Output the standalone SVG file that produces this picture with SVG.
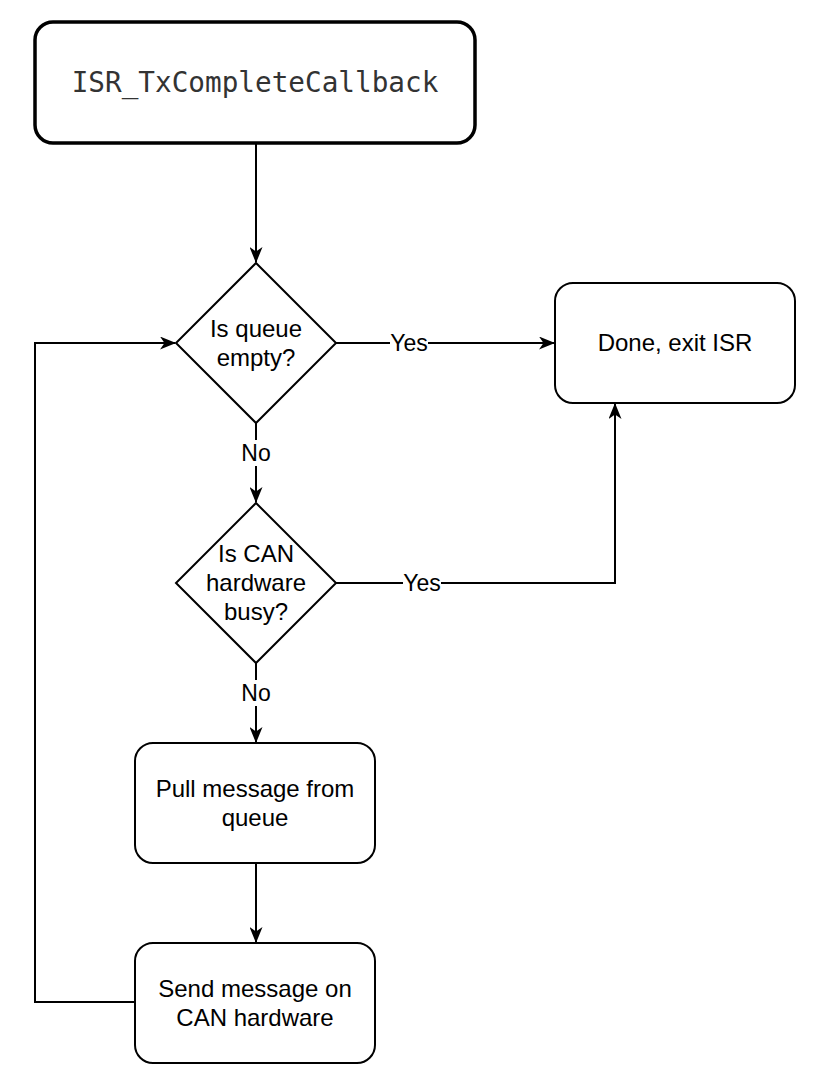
<svg xmlns="http://www.w3.org/2000/svg" width="816" height="1084" viewBox="0 0 816 1084">
<style>
.box{fill:#fff;stroke:#000;stroke-width:2}
.title{fill:#fff;stroke:#000;stroke-width:3.5}
.t{font-family:"Liberation Sans",Arial,sans-serif;font-size:24px;fill:#000;text-anchor:middle}
.mono{font-family:"DejaVu Sans Mono",monospace;font-size:27.7px;fill:#333;text-anchor:middle}
.edge{fill:none;stroke:#000;stroke-width:2}
.lbl{font-family:"Liberation Sans",Arial,sans-serif;font-size:23px;fill:#000;text-anchor:middle}
.bg{fill:#fff}
</style>
<defs>
<marker id="arr" viewBox="0 0 16 13" refX="15" refY="6.5" markerWidth="16" markerHeight="13" markerUnits="userSpaceOnUse" orient="auto">
<path d="M0,0 L16,6.5 L0,13 L4.5,6.5 Z" fill="#000"/>
</marker>
</defs>
<rect width="816" height="1084" fill="#fff"/>
<g id="connectors">
<path class="edge" d="M256,144 L256,262" marker-end="url(#arr)"/>
<path class="edge" d="M336,343 L554,343" marker-end="url(#arr)"/>
<path class="edge" d="M256,423 L256,502" marker-end="url(#arr)"/>
<path class="edge" d="M336,583 L615,583 L615,404" marker-end="url(#arr)"/>
<path class="edge" d="M256,663 L256,742" marker-end="url(#arr)"/>
<path class="edge" d="M256,863 L256,942" marker-end="url(#arr)"/>
<path class="edge" d="M135,1002 L35,1002 L35,343 L175,343" marker-end="url(#arr)"/>
<rect class="bg" x="390" y="331" width="38" height="24"/>
<text class="lbl" x="409" y="351">Yes</text>
<rect class="bg" x="403" y="571" width="38" height="24"/>
<text class="lbl" x="422" y="591">Yes</text>
<rect class="bg" x="240" y="440" width="32" height="26"/>
<text class="lbl" x="256" y="461">No</text>
<rect class="bg" x="240" y="680" width="32" height="26"/>
<text class="lbl" x="256" y="701">No</text>
</g>
<g id="start">
<rect class="title" x="35" y="22" width="440" height="121" rx="18" ry="18"/>
<text class="mono" x="255" y="92">ISR_TxCompleteCallback</text>
</g>
<g id="queueEmpty">
<polygon class="box" points="256,263 336,343 256,423 176,343"/>
<text class="t" x="256" y="337">Is queue</text>
<text class="t" x="256" y="366">empty?</text>
</g>
<g id="done">
<rect class="box" x="555" y="283" width="240" height="120" rx="18" ry="18"/>
<text class="t" x="675" y="351">Done, exit ISR</text>
</g>
<g id="canBusy">
<polygon class="box" points="256,503 336,583 256,663 176,583"/>
<text class="t" x="256" y="562">Is CAN</text>
<text class="t" x="256" y="591">hardware</text>
<text class="t" x="256" y="620">busy?</text>
</g>
<g id="pull">
<rect class="box" x="135" y="743" width="240" height="120" rx="18" ry="18"/>
<text class="t" x="255" y="797">Pull message from</text>
<text class="t" x="255" y="826">queue</text>
</g>
<g id="send">
<rect class="box" x="135" y="943" width="240" height="120" rx="18" ry="18"/>
<text class="t" x="255" y="997">Send message on</text>
<text class="t" x="255" y="1026">CAN hardware</text>
</g>
</svg>
